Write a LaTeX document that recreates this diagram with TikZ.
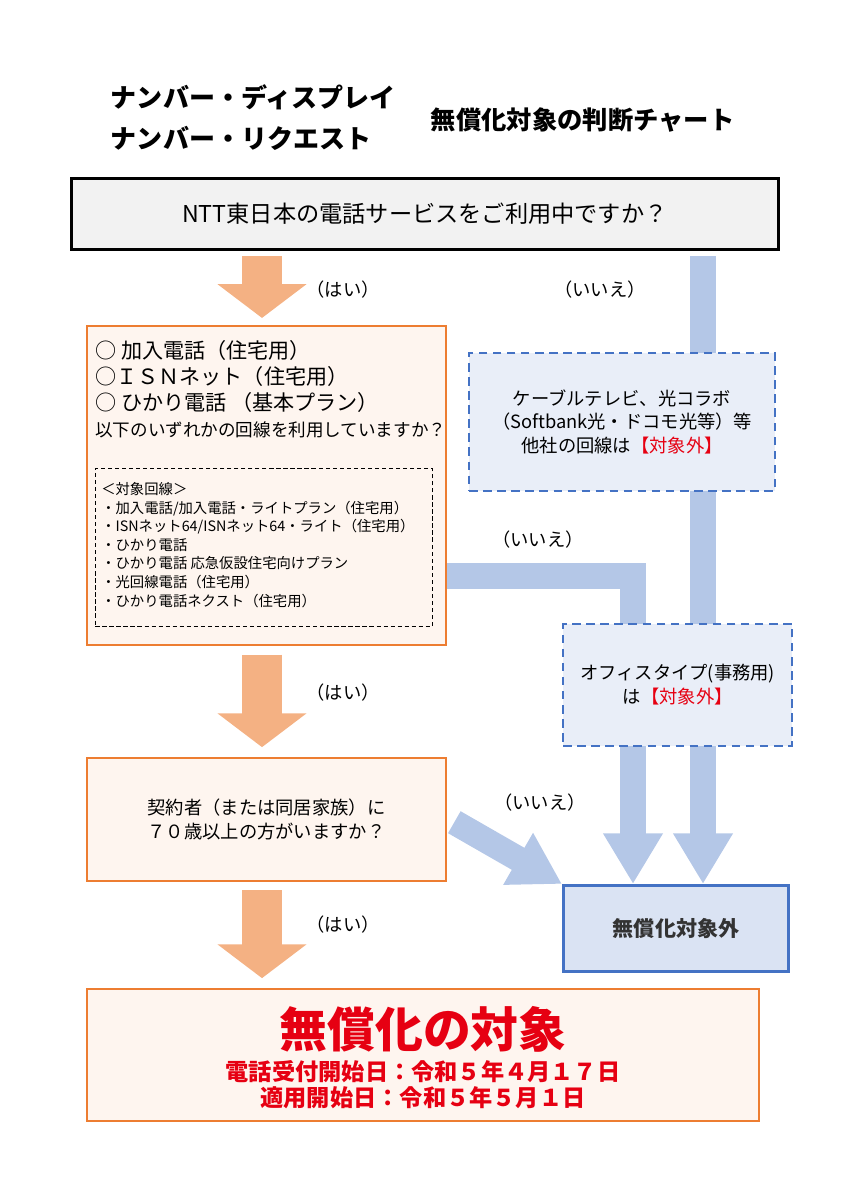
\documentclass[tikz,border=0pt]{standalone}
\usepackage{fontspec}
\setmainfont{Noto Sans CJK JP}
\usetikzlibrary{arrows.meta,positioning,backgrounds}
\definecolor{nttOrange}{RGB}{237,125,49}
\definecolor{nttOrangeLight}{RGB}{244,177,131}
\definecolor{nttBlue}{RGB}{68,114,196}
\definecolor{nttBlueLight}{RGB}{180,199,231}
\definecolor{nttRed}{RGB}{230,0,18}
\newcommand{\fs}[1]{\fontsize{#1pt}{\dimexpr#1pt*13/10\relax}\selectfont}
\newcommand{\px}{0.70866pt}

\begin{document}
\begin{tikzpicture}[x=0.025cm,y=-0.025cm,
          qbox/.style={
            draw=nttOrange,
            line width=1.6pt,
            fill=nttOrange!8,
            rectangle,
            anchor=north west},
          obox/.style={
            draw=nttBlue,
            line width=1.6pt,
            dashed,
            dash pattern=on 6pt off 4pt,
            fill=nttBlue!12,
            align=center,
            anchor=north west},
          yesArrow/.style={
            draw=nttOrangeLight,
            line width=28pt,
            shorten <=4pt,
            shorten >=5pt,
            -{Triangle[width=62pt,length=24pt]}},
          noArrow/.style={
            draw=nttBlueLight,
            line width=18pt},
          noArrowTip/.style={
            noArrow,
            -{Triangle[width=40pt,length=36pt]}},
          lbl/.style={font=\fs{13}}
          ]
          \useasboundingbox (0,0) rectangle (848,1200);

          % titles
          \node[anchor=west,font=\bfseries\fs{18.5}] (titleA) at (106,97) {ナンバー・ディスプレイ};
          \node[anchor=west,font=\bfseries\fs{18.5}] (titleB) at (106,138) {ナンバー・リクエスト};
          \node[anchor=west,font=\bfseries\fs{18}] (titleC) at (426,120) {無償化対象の判断チャート};

          % boxes
          \node[draw,line width=2.2pt,fill=black!5,anchor=north west,minimum width={709*\px},minimum height={71*\px},
                font=\fs{16.5}] (start) at (70,177) {NTT東日本の電話サービスをご利用中ですか？};

          \node[qbox,minimum width={360*\px},minimum height={320*\px}] (lines) at (86,325) {};
          \node[anchor=north west,align=left,font=\fs{15},inner sep=0pt] (linesTxt) at (95,340)
            {○ 加入電話（住宅用）\\[-1pt] ○ＩＳＮネット（住宅用）\\[-1pt] ○ ひかり電話 （基本プラン）\\[-1pt] {\fs{12.5}以下のいずれかの回線を利用していますか？}};
          \node[draw,dashed,dash pattern=on 3pt off 2pt,anchor=north west,minimum width={338*\px},minimum height={159*\px}] (target) at (95,468) {};
          \node[anchor=north west,align=left,font=\fs{10.2},inner sep=0pt] (targetTxt) at (101,482)
            {＜対象回線＞\\
             ・加入電話/加入電話・ライトプラン（住宅用）\\
             ・ISNネット64/ISNネット64・ライト（住宅用）\\
             ・ひかり電話\\
             ・ひかり電話 応急仮設住宅向けプラン\\
             ・光回線電話（住宅用）\\
             ・ひかり電話ネクスト（住宅用）};

          \node[obox,minimum width={307*\px},minimum height={138*\px},font=\fs{13}] (cable) at (468,352)
            {ケーブルテレビ、光コラボ\\（Softbank光・ドコモ光等）等\\他社の回線は{\color{nttRed}【対象外】}};
          \node[obox,minimum width={230*\px},minimum height={122*\px},font=\fs{13}] (office) at (562,623)
            {オフィスタイプ(事務用)\\は{\color{nttRed}【対象外】}};

          \node[qbox,minimum width={360*\px},minimum height={123*\px},align=center,font=\fs{13}] (age) at (86,757)
            {契約者（または同居家族）に\\７０歳以上の方がいますか？};

          \node[draw=nttBlue,line width=2.2pt,fill=nttBlue!20,anchor=north west,minimum width={226*\px},minimum height={86*\px},
                font=\bfseries\fs{15},text=black!80] (notFree) at (562,884) {無償化対象外};

          \node[qbox,minimum width={674*\px},minimum height={132*\px}] (free) at (86,988) {};
          \node[align=center,text=nttRed,font=\bfseries\fs{16.5},inner sep=0pt] (freeTxt) at (423,1058)
            {{\fs{34}無償化の対象}\\[2pt]電話受付開始日：令和５年４月１７日\\[-3pt]適用開始日：令和５年５月１日};

          % connectors
          \begin{scope}[on background layer]
            \coordinate (yesX) at (262,0);
            \coordinate (noX) at (703,0);
            \coordinate (bendX) at (633,0);
            \coordinate (linesOut) at (0,576);
            \coordinate (ageOut) at (0,818);
            \draw[yesArrow] (start.south -| yesX) -- (lines.north -| yesX);
            \draw[yesArrow,shorten <=6pt,shorten >=7pt] (lines.south -| yesX) -- (age.north -| yesX);
            \draw[yesArrow,shorten <=6pt,shorten >=7pt] (age.south -| yesX) -- (free.north -| yesX);
            \draw[noArrowTip,shorten <=4pt] (start.south -| noX) -- (notFree.north -| noX);
            \draw[noArrowTip] (lines.east |- linesOut) -| (notFree.north -| bendX);
            \draw[noArrowTip,shorten <=6pt] (age.east |- ageOut) -- (notFree.north west);
          \end{scope}

          % labels
          \node[lbl] (yesA) at (343,290) {（はい）};
          \node[lbl] (yesB) at (343,693) {（はい）};
          \node[lbl] (yesC) at (343,925) {（はい）};
          \node[lbl] (noA) at (600,290) {（いいえ）};
          \node[lbl] (noB) at (538,540) {（いいえ）};
          \node[lbl] (noC) at (540,803) {（いいえ）};
        \end{tikzpicture}
\end{document}
